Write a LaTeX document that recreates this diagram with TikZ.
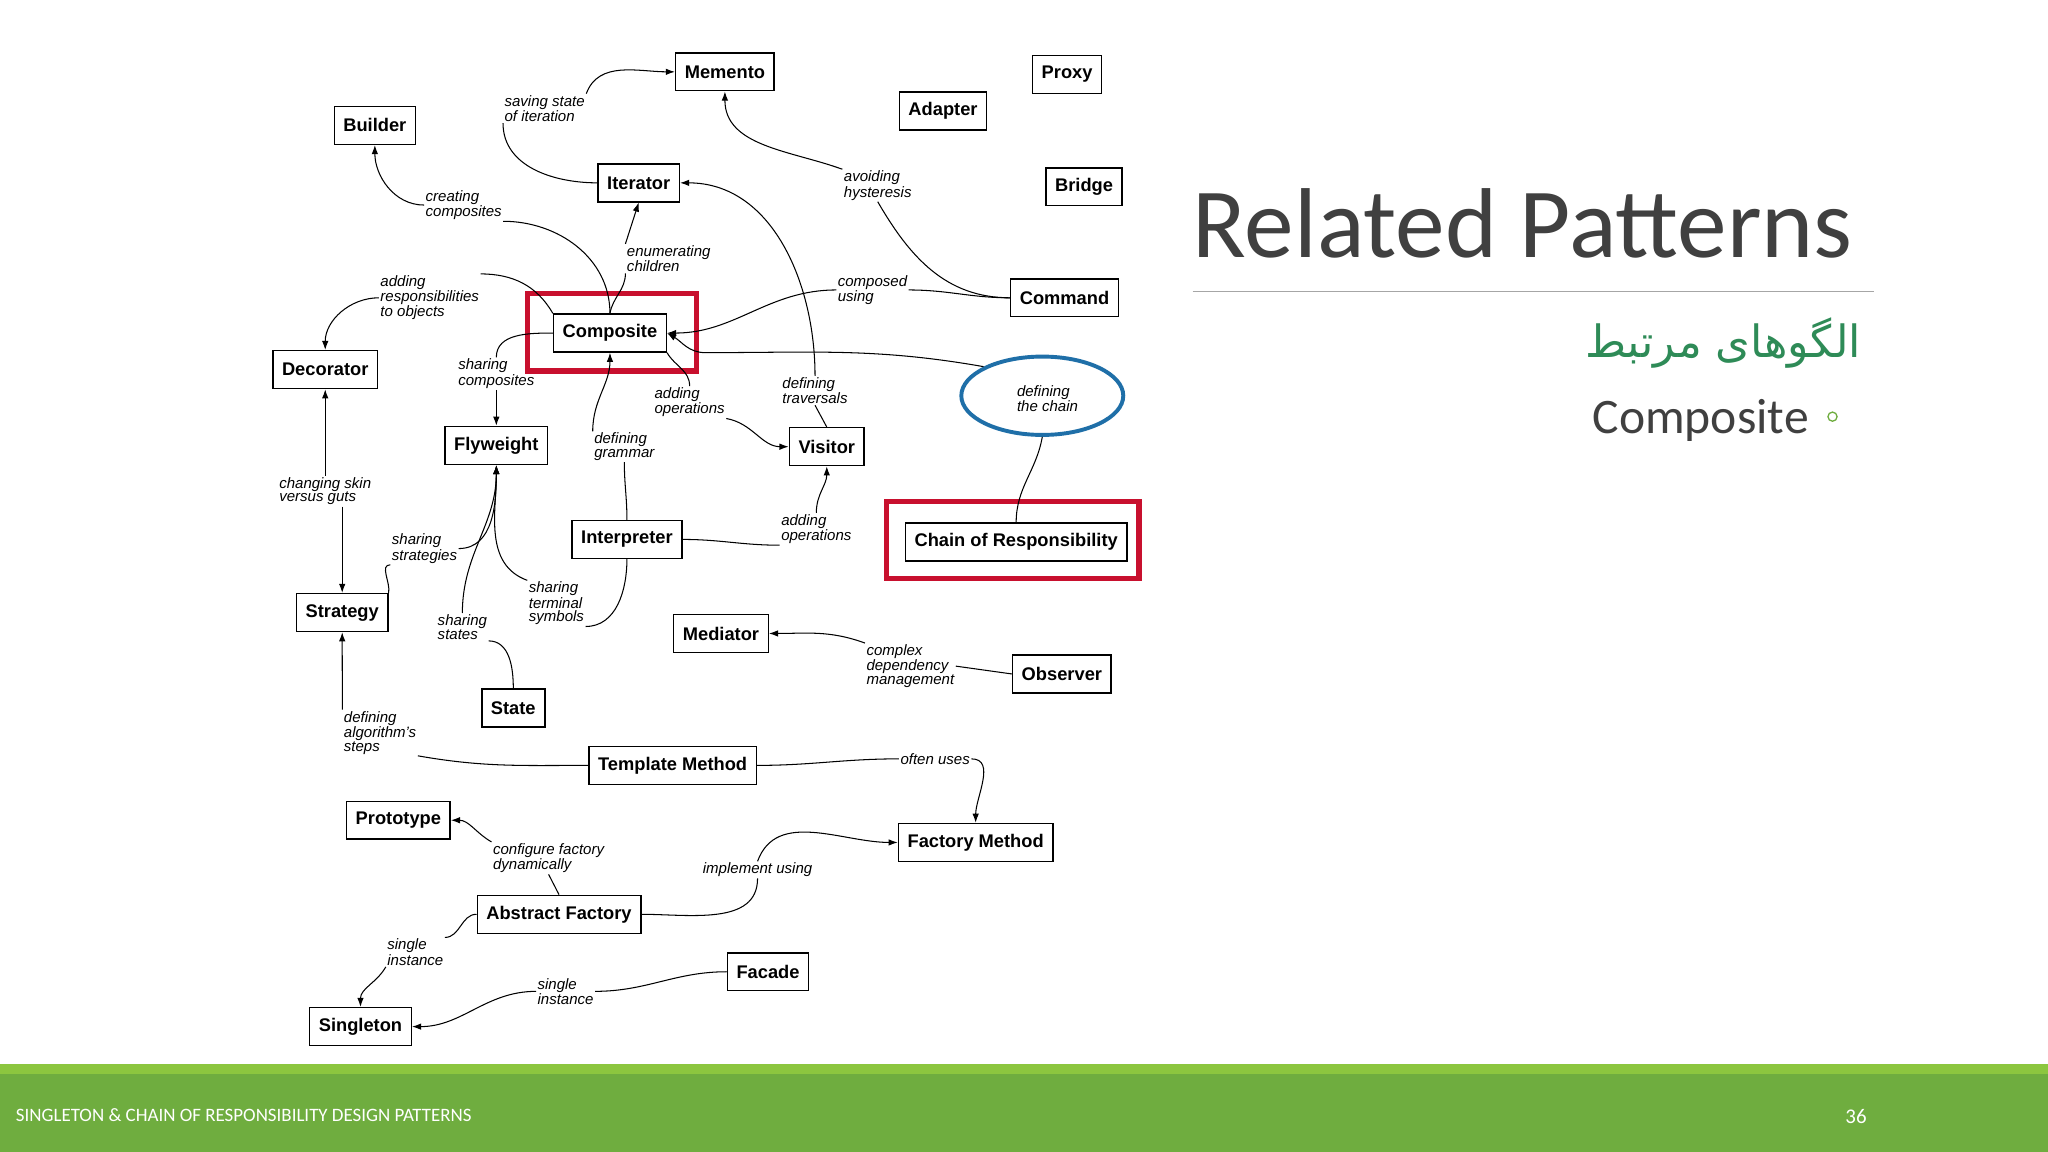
\documentclass[tikz,border=0pt]{standalone}
\usepackage{fontspec}
\setmainfont{Liberation Sans}
\newfontfamily\titlefont{Carlito}
\newfontfamily\arabicfont[Script=Arabic]{DejaVu Sans}
\TeXXeTstate=1
\usetikzlibrary{arrows.meta,shapes.geometric}
\definecolor{fgreen}{HTML}{6FAD3F}
\definecolor{fgreenl}{HTML}{8CC63F}
\definecolor{tgreen}{HTML}{2E8B57}
\definecolor{tgray}{HTML}{404040}
\definecolor{frame}{HTML}{C8102E}
\definecolor{eblue}{HTML}{1F6FA8}
\tikzset{
 pat/.style={draw,line width=1.1pt,fill=white,inner xsep=7pt,minimum height=29pt,font=\fontsize{14}{16}\selectfont\bfseries},
 lab/.style={inner sep=1pt,align=left,font=\fontsize{11.5}{10.5}\selectfont\itshape},
 con/.style={line width=0.8pt},
 arr/.style={con,-{Latex[length=7pt,width=5pt]}},
 redbox/.style={draw=frame,line width=4pt},
}
\begin{document}
\begin{tikzpicture}[x=1pt,y=-1pt]
\useasboundingbox (0,0) rectangle (1568,882);
\fill[white] (0,0) rectangle (1568,882);
% nodes
\node[pat] (memento) at (555,55) {Memento};
\node[pat] (proxy) at (817,57) {Proxy};
\node[pat] (adapter) at (722,85) {Adapter};
\node[pat] (builder) at (287,96) {Builder};
\node[pat] (iterator) at (489,140) {Iterator};
\node[pat] (bridge) at (830,143) {Bridge};
\node[pat] (command) at (815,228) {Command};
\node[pat] (composite) at (467,255) {Composite};
\draw[redbox] (404,225) rectangle (533,284);
\node[pat] (decorator) at (249,283) {Decorator};
\node[pat] (flyweight) at (380,341) {Flyweight};
\node[pat] (visitor) at (633,342) {Visitor};
\node[pat] (interp) at (480,413) {Interpreter};
\node[pat] (chain) at (778,415) {Chain of Responsibility};
\draw[redbox] (679,384) rectangle (872,443);
\node[pat] (strategy) at (262,469) {Strategy};
\node[pat] (mediator) at (552,485) {Mediator};
\node[pat] (observer) at (813,516) {Observer};
\node[pat] (state) at (393,542) {State};
\node[pat] (template) at (515,586) {Template Method};
\node[pat] (prototype) at (305,628) {Prototype};
\node[pat] (factory) at (747,645) {Factory Method};
\node[pat] (abstract) at (428,700) {Abstract Factory};
\node[pat] (facade) at (588,744) {Facade};
\node[pat] (singleton) at (276,786) {Singleton};
\node[draw=eblue,line width=3pt,ellipse,minimum width=124pt,minimum height=60pt] (ell) at (798,303) {};
% labels
\node[lab] (l1) at (417,83) {saving state\\of iteration};
\node[lab] (l2) at (672,142) {avoiding\\hysteresis};
\node[lab] (l3) at (355,157) {creating\\composites};
\node[lab] (l4) at (512,198) {enumerating\\children};
\node[lab] (l5) at (329,228) {adding\\responsibilities\\to objects};
\node[lab] (l6) at (668,222) {composed\\using};
\node[lab] (l7) at (624,299) {defining\\traversals};
\node[lab] (l8) at (802,305) {defining\\the chain};
\node[lab] (l9) at (380,286) {sharing\\composites};
\node[lab] (l10) at (528,308) {adding\\operations};
\node[lab] (l11) at (478,342) {defining\\grammar};
\node[lab] (l12) at (625,405) {adding\\operations};
\node[lab] (l13) at (249,376) {changing skin\\versus guts};
\node[lab] (l14) at (325,420) {sharing\\strategies};
\node[lab] (l15) at (426,462) {sharing\\terminal\\symbols};
\node[lab] (l16) at (354,480) {sharing\\states};
\node[lab] (l17) at (697,510) {complex\\dependency\\management};
\node[lab] (l18) at (291,561) {defining\\algorithm's\\steps};
\node[lab] (l19) at (716,581) {often uses};
\node[lab] (l20) at (420,657) {configure factory\\dynamically};
\node[lab] (l21) at (580,666) {implement using};
\node[lab] (l22) at (318,729) {single\\instance};
\node[lab] (l23) at (433,759) {single\\instance};
% connectors
\draw[con] (iterator.west) to[out=180,in=-90] (l1.south west);
\draw[arr] (l1.north east) to[out=70,in=180] (memento.west);
\draw[arr] (l2.north west) to[out=160,in=-90] (memento.south);
\draw[con] (l2.south) to[out=-60,in=180] (command.west);
\draw[con] (composite.north) to[out=90,in=0] (l3.south east);
\draw[arr] (l3.west) to[out=180,in=-90] (builder.south);
\draw[con] (composite.north) to[out=80,in=-90] (l4.south west);
\draw[arr] (l4.north west) -- (iterator.south);
\draw[con] (composite.north west) to[out=120,in=0] (l5.north east);
\draw[arr] (l5.west) to[out=180,in=90] (decorator.north);
\draw[con] (command.west) to[out=180,in=0] (l6.east);
\draw[arr] (l6.west) to[out=180,in=0] (composite.east);
\draw[con] (visitor.north) -- (l7.south);
\draw[arr] (l7.north) to[out=90,in=0] (iterator.east);
\draw[con] (chain.north) to[out=90,in=-100] (ell.south);
\draw[arr] (ell.north west) to[out=170,in=0] (540,270) to[out=180,in=-30] (composite.east);
\draw[con] (composite.west) to[out=180,in=90] (l9.north);
\draw[arr] (l9.south) -- (flyweight.north);
\draw[con] (composite.south east) to[out=-60,in=90] (l10.north);
\draw[arr] (l10.south east) to[out=-10,in=180] (visitor.west);
\draw[con] (interp.north) to[out=90,in=-90] (l11.south);
\draw[arr] (l11.north west) to[out=90,in=-90] (composite.south);
\draw[con] (interp.east) to[out=0,in=180] (l12.south west);
\draw[arr] (l12.north) to[out=90,in=-90] (visitor.south);
\draw[arr] (l13.north west -| decorator.south) -- (decorator.south);
\draw[arr] (l13.south west -| strategy.north) -- (strategy.north);
\draw[con] (strategy.north east) to[out=80,in=180] (l14.south west);
\draw[arr] (l14.east) to[out=0,in=-90] (flyweight.south);
\draw[con] (interp.south) to[out=-90,in=0] (l15.south east);
\draw[arr] (l15.north west) to[out=160,in=-90] (flyweight.south);
\draw[con] (state.north) to[out=90,in=0] (l16.south east);
\draw[arr] (l16.north) to[out=90,in=-90] (flyweight.south);
\draw[con] (observer.west) -- (l17.east);
\draw[arr] (l17.north west) to[out=160,in=0] (mediator.east);
\draw[con] (template.west) to[out=180,in=-10] (l18.south east);
\draw[arr] (l18.north west) to[out=90,in=-90] (strategy.south);
\draw[con] (template.east) to[out=0,in=180] (l19.west);
\draw[arr] (l19.east) to[out=0,in=90] (factory.north);
\draw[con] (abstract.north) -- (l20.south);
\draw[arr] (l20.north west) to[out=150,in=0] (prototype.east);
\draw[con] (abstract.east) to[out=0,in=-90] (l21.south);
\draw[arr] (l21.north) to[out=70,in=180] (factory.west);
\draw[con] (abstract.west) to[out=180,in=0] (l22.north east);
\draw[arr] (l22.south west) to[out=-120,in=90] (singleton.north);
\draw[con] (facade.west) to[out=180,in=0] (l23.east);
\draw[arr] (l23.west) to[out=180,in=0] (singleton.east);
% right side text
\node[anchor=base west,text=tgray,font=\titlefont\fontsize{76}{80}\selectfont,inner sep=0] (title) at (913,197) {Related Patterns};
\draw[gray!70,line width=1pt] (913,223) -- (1435,223);
\node[anchor=base east,text=tgreen,font=\arabicfont\fontsize{34}{40}\selectfont,inner sep=0] (ar) at (1425,274) {\beginR الگوهای مرتبط\endR};
\node[anchor=base east,text=tgray,font=\titlefont\fontsize{38}{40}\selectfont,inner sep=0] (comp) at (1385,332) {Composite};
\draw[fgreen,line width=1pt] (1403,319) circle (3.5);
% footer
\fill[fgreen] (0,815) rectangle (1568,882);
\fill[fgreenl] (0,815) rectangle (1568,822);
\node[anchor=west,text=white,font=\titlefont\fontsize{14.5}{15}\selectfont,inner sep=0] (ft) at (12,854) {SINGLETON \& CHAIN OF RESPONSIBILITY DESIGN PATTERNS};
\node[text=white,font=\titlefont\fontsize{16}{16}\selectfont,inner sep=0] (pg) at (1421,855) {36};
\end{tikzpicture}
\end{document}
